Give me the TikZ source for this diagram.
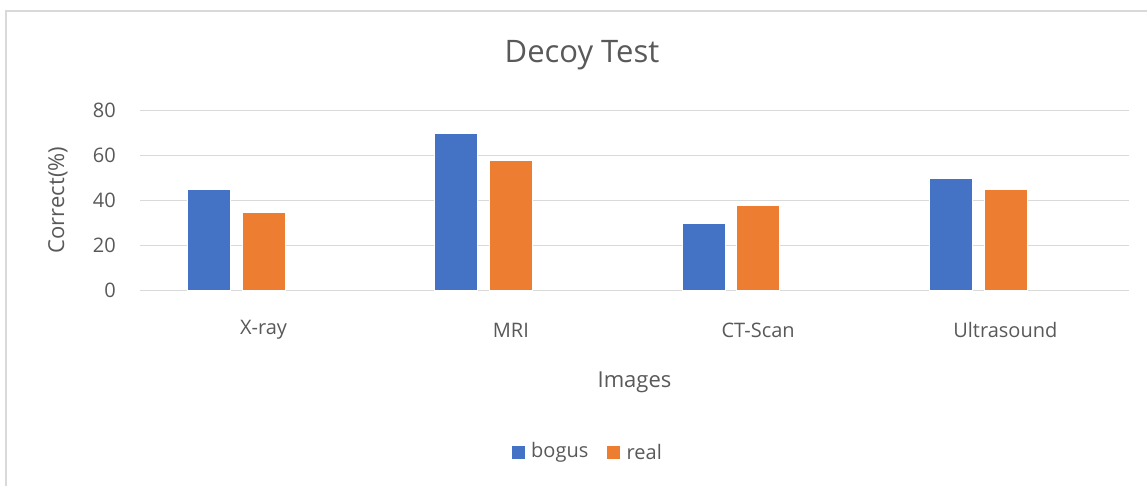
\documentclass[tikz,border=0pt]{standalone}
\usepackage{fontspec}
\setmainfont{Open Sans}
\definecolor{barblue}{HTML}{4472C4}
\definecolor{barorange}{HTML}{ED7D31}
\definecolor{txtgray}{HTML}{595959}
\definecolor{gridgray}{HTML}{D9D9D9}
\begin{document}
\begin{tikzpicture}[x=1pt,y=-1pt,
  gridline/.style={draw=gridgray,line width=1.3pt},
  bogusbar/.style={fill=barblue,draw=white,line width=0.6pt},
  realbar/.style={fill=barorange,draw=white,line width=0.6pt},
  ticklbl/.style={text=txtgray,font=\fontsize{20}{24}\selectfont,inner sep=0pt},
  axlbl/.style={text=txtgray,font=\fontsize{22}{26}\selectfont,inner sep=0pt},
  titlelbl/.style={text=txtgray,font=\fontsize{31}{36}\selectfont,inner sep=0pt},
  legkey/.style={minimum size=13pt,inner sep=0pt}]
\useasboundingbox (0,0) rectangle (1147,486);
% chart frame (left and top edges)
\draw[draw=gridgray,line width=2pt] (6,486) -- (6,11.5) -- (1147,11.5);
% horizontal gridlines and value labels
\foreach \v in {0,20,40,60,80}{
  \draw[gridline] (140,{290.7-2.25*\v}) -- (1129,{290.7-2.25*\v});
  \node[ticklbl,anchor=east] (t\v) at (116,{290.7-2.25*\v}) {\v};
}
% bars: category width 247.25, bar width 43
\foreach \i/\name/\b/\r in {0/X-ray/45/35,1/MRI/70/58,2/CT-Scan/30/38,3/Ultrasound/50/45}{
  \pgfmathsetmacro{\xo}{187.4+247.25*\i}
  \draw[bogusbar] (\xo,290.7) rectangle ({\xo+43},{290.7-2.25*\b});
  \draw[realbar] ({\xo+54.7},290.7) rectangle ({\xo+97.7},{290.7-2.25*\r});
  \node[ticklbl] (c\i) at ({263.6+247.25*\i},330) {\name};
}
% titles
\node[titlelbl] (title) at (582,55) {Decoy Test};
\node[axlbl] (xlab) at (634.5,382) {Images};
\node[axlbl,rotate=90] (ylab) at (58,200) {Correct(\%)};
% legend
\node[legkey,fill=barblue] (kb) at (518.3,452.5) {};
\node[ticklbl,anchor=west] (lb) at (531,452) {bogus};
\node[legkey,fill=barorange] (kr) at (613.6,452.5) {};
\node[ticklbl,anchor=west] (lr) at (626.5,452) {real};
\end{tikzpicture}
\end{document}
